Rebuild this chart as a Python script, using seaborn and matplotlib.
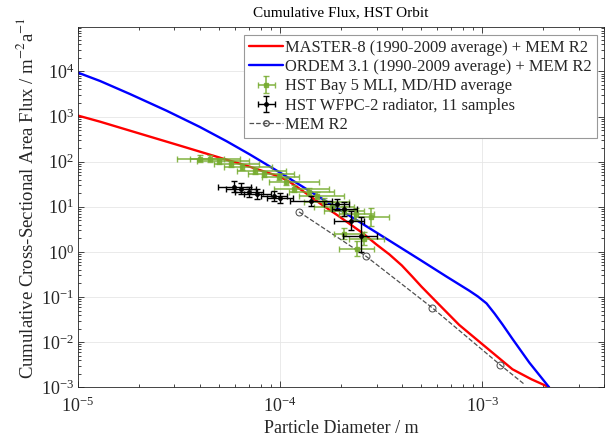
import numpy as np
import pandas as pd
import matplotlib
matplotlib.use('Agg')
import matplotlib.pyplot as plt
from matplotlib.ticker import LogLocator, NullFormatter
import seaborn as sns

# model curves
master_d = [1.0e-5, 1.285e-5, 2.02e-5, 3.19e-5, 5.02e-5, 7.07e-5, 1.0e-4, 1.12e-4, 1.25e-4,
            1.40e-4, 1.57e-4, 1.97e-4, 2.55e-4, 3.0e-4, 3.47e-4, 4.0e-4, 4.5e-4, 5.0e-4,
            5.93e-4, 7.69e-4, 1.0e-3, 1.41e-3, 1.75e-3, 2.14e-3]
master_flux = [1050, 770, 419, 227, 123, 77.4, 46, 35, 25,
               17.5, 12, 6.0, 2.64, 1.45, 0.88, 0.5, 0.285, 0.17,
               0.078, 0.024, 0.009, 0.0025, 0.0015, 0.001]

ordem_d = [1.0e-5, 1.285e-5, 1.81e-5, 2.75e-5, 4.0e-5, 5.44e-5, 7.07e-5, 1.0e-4, 1.40e-4,
           1.75e-4, 2.47e-4, 3.47e-4, 4.89e-4, 6.64e-4, 8.62e-4, 9.5e-4, 1.05e-3, 1.15e-3,
           1.26e-3, 1.41e-3, 1.71e-3, 2.14e-3]
ordem_flux = [9400, 6150, 3150, 1340, 590, 283, 145, 57, 22.3,
              12, 4.6, 1.78, 0.68, 0.285, 0.138, 0.103, 0.072, 0.043,
              0.0245, 0.0118, 0.0035, 0.001]

mem_d = [1.24e-4, 2.65e-4, 5.67e-4, 1.23e-3, 1.6e-3]
mem_flux = [7.7, 0.81, 0.057, 0.0031, 0.0012]

# HST Bay 5 MLI, MD/HD average
bay_d = [4.0e-5, 4.5e-5, 5.0e-5, 5.7e-5, 6.5e-5, 7.5e-5, 8.3e-5, 9.9e-5, 1.07e-4, 1.17e-4,
         1.39e-4, 1.52e-4, 1.65e-4, 1.80e-4, 2.07e-4, 2.37e-4, 2.81e-4, 2.07e-4, 2.59e-4, 2.40e-4]
bay_flux = [117, 117, 105, 90, 77, 63, 54, 46, 36, 25,
            21.5, 17.5, 12.9, 10, 8.1, 7.0, 6.0, 2.5, 1.95, 1.17]
bay_d_lo = [3.1e-5, 3.6e-5, 3.9e-5, 4.7e-5, 5.3e-5, 6.1e-5, 6.9e-5, 8.1e-5, 8.8e-5, 9.3e-5,
            1.11e-4, 1.24e-4, 1.31e-4, 1.47e-4, 1.65e-4, 1.95e-4, 2.32e-4, 1.85e-4, 2.19e-4, 1.95e-4]
bay_d_hi = [5.3e-5, 6.3e-5, 7.0e-5, 7.9e-5, 9.1e-5, 1.07e-4, 1.17e-4, 1.24e-4, 1.56e-4, 1.74e-4,
            1.85e-4, 2.07e-4, 2.19e-4, 2.32e-4, 2.59e-4, 2.90e-4, 3.44e-4, 2.59e-4, 3.25e-4, 2.9e-4]
bay_flux_lo = [100, 100, 90, 77, 66, 54, 46, 39, 30, 21,
               18, 14.5, 10.5, 8, 6.2, 5.2, 3.8, 1.9, 1.4, 0.8]
bay_flux_hi = [137, 137, 123, 105, 90, 74, 63, 54, 43, 30,
               26, 21, 16, 12.5, 10.5, 9.5, 9.5, 3.3, 2.7, 1.7]

# HST WFPC-2 radiator, 11 samples
wfpc_d = [5.9e-5, 6.4e-5, 7.0e-5, 7.7e-5, 9.3e-5, 1.0e-4, 1.42e-4, 1.91e-4, 2.07e-4, 2.24e-4, 2.51e-4]
wfpc_flux = [28, 25, 21.5, 19.4, 17.5, 15.8, 13.6, 11.7, 9.0, 4.9, 2.3]
wfpc_d_lo = [4.9e-5, 5.4e-5, 6.0e-5, 6.6e-5, 8.0e-5, 8.6e-5, 1.12e-4, 1.65e-4, 1.8e-4, 1.85e-4, 2.05e-4]
wfpc_d_hi = [7.2e-5, 7.6e-5, 8.2e-5, 9.0e-5, 1.08e-4, 1.16e-4, 1.8e-4, 2.2e-4, 2.4e-4, 2.6e-4, 3.0e-4]
wfpc_flux_lo = [21, 19, 16.5, 15, 13.5, 12, 10.5, 8.5, 6.2, 3.0, 1.0]
wfpc_flux_hi = [37, 33, 28, 25, 22.5, 20.5, 17.5, 15, 12.5, 8, 6.0]

sns.set_theme(style='ticks')
plt.rcParams['font.family'] = ['Liberation Serif', 'DejaVu Serif']
plt.rcParams['mathtext.fontset'] = 'stix'
TXT = '#262626'
GREEN = '#77AC30'
MEMC = '#505050'


def asym(center, lo, hi):
    c = np.asarray(center)
    return np.vstack([c - np.asarray(lo), np.asarray(hi) - c])


fig = plt.figure(figsize=(6.07, 4.41), dpi=100)
ax = fig.add_axes([0.1285, 0.122, 0.8665, 0.816])
ax.set_xscale('log')
ax.set_yscale('log')

sns.lineplot(x=master_d, y=master_flux, ax=ax, color='#FF0000', lw=1.7, sort=False)
sns.lineplot(x=ordem_d, y=ordem_flux, ax=ax, color='#0000FF', lw=1.7, sort=False)

h_bay = ax.errorbar(bay_d, bay_flux, xerr=asym(bay_d, bay_d_lo, bay_d_hi),
                    yerr=asym(bay_flux, bay_flux_lo, bay_flux_hi),
                    fmt='s', ms=3.2, color=GREEN, ecolor=GREEN, elinewidth=1.2,
                    capsize=2.5, capthick=1.0, alpha=0.85, zorder=3)
h_wfpc = ax.errorbar(wfpc_d, wfpc_flux, xerr=asym(wfpc_d, wfpc_d_lo, wfpc_d_hi),
                     yerr=asym(wfpc_flux, wfpc_flux_lo, wfpc_flux_hi),
                     fmt='.', ms=5, color='black', ecolor='black', elinewidth=1.0,
                     capsize=2.5, capthick=1.0, zorder=4)

sns.lineplot(x=mem_d, y=mem_flux, ax=ax, color=MEMC, lw=0.9, linestyle='--',
             marker='o', ms=5, mfc='none', mec=MEMC, markevery=[0, 1, 2, 3], sort=False)

ax.set_xlim(1e-5, 4e-3)
ax.set_ylim(1e-3, 9.5e4)
ax.xaxis.set_major_locator(LogLocator(base=10, numticks=20))
ax.xaxis.set_minor_locator(LogLocator(base=10, subs=np.arange(2, 10), numticks=100))
ax.yaxis.set_major_locator(LogLocator(base=10, numticks=20))
ax.yaxis.set_minor_locator(LogLocator(base=10, subs=np.arange(2, 10), numticks=100))
ax.xaxis.set_minor_formatter(NullFormatter())
ax.yaxis.set_minor_formatter(NullFormatter())

ax.grid(True, which='major', color='#e6e6e6', lw=0.6)
ax.set_axisbelow(True)
ax.tick_params(which='both', direction='in', top=True, right=True, colors=TXT,
               labelsize=13, width=0.6)
ax.tick_params(which='major', length=4)
ax.tick_params(which='minor', length=2)
ax.tick_params(axis='x', which='major', pad=7)
ax.tick_params(axis='y', which='major', pad=3)
for s in ax.spines.values():
    s.set_color(TXT)
    s.set_linewidth(0.6)

ax.set_xlabel('Particle Diameter / m', fontsize=13, color=TXT, labelpad=3)
ax.set_ylabel('Cumulative Cross-Sectional Area Flux / m$^{-2}$a$^{-1}$', fontsize=13.5,
              color=TXT)
ax.yaxis.set_label_coords(-0.078, 0.525)
ax.set_title('Cumulative Flux, HST Orbit', fontsize=11, color='black', pad=8)

handles = [
    plt.Line2D([], [], color='#FF0000', lw=1.7),
    plt.Line2D([], [], color='#0000FF', lw=1.7),
    h_bay, h_wfpc,
    plt.Line2D([], [], color=MEMC, lw=0.9, ls='--', marker='o', ms=4, mfc='none'),
]
labels = ['MASTER-8 (1990-2009 average) + MEM R2',
          'ORDEM 3.1 (1990-2009 average) + MEM R2',
          'HST Bay 5 MLI, MD/HD average',
          'HST WFPC-2 radiator, 11 samples',
          'MEM R2']
leg = ax.legend(handles, labels, loc='upper right', fontsize=11.9, frameon=True,
                fancybox=False, framealpha=1, edgecolor='#999999', borderaxespad=0.45,
                handlelength=2.05, handletextpad=0.1, labelspacing=0.2, borderpad=0.3)
leg.get_frame().set_linewidth(0.8)
for t in leg.get_texts():
    t.set_color(TXT)

fig.savefig('out.png', dpi=100)
